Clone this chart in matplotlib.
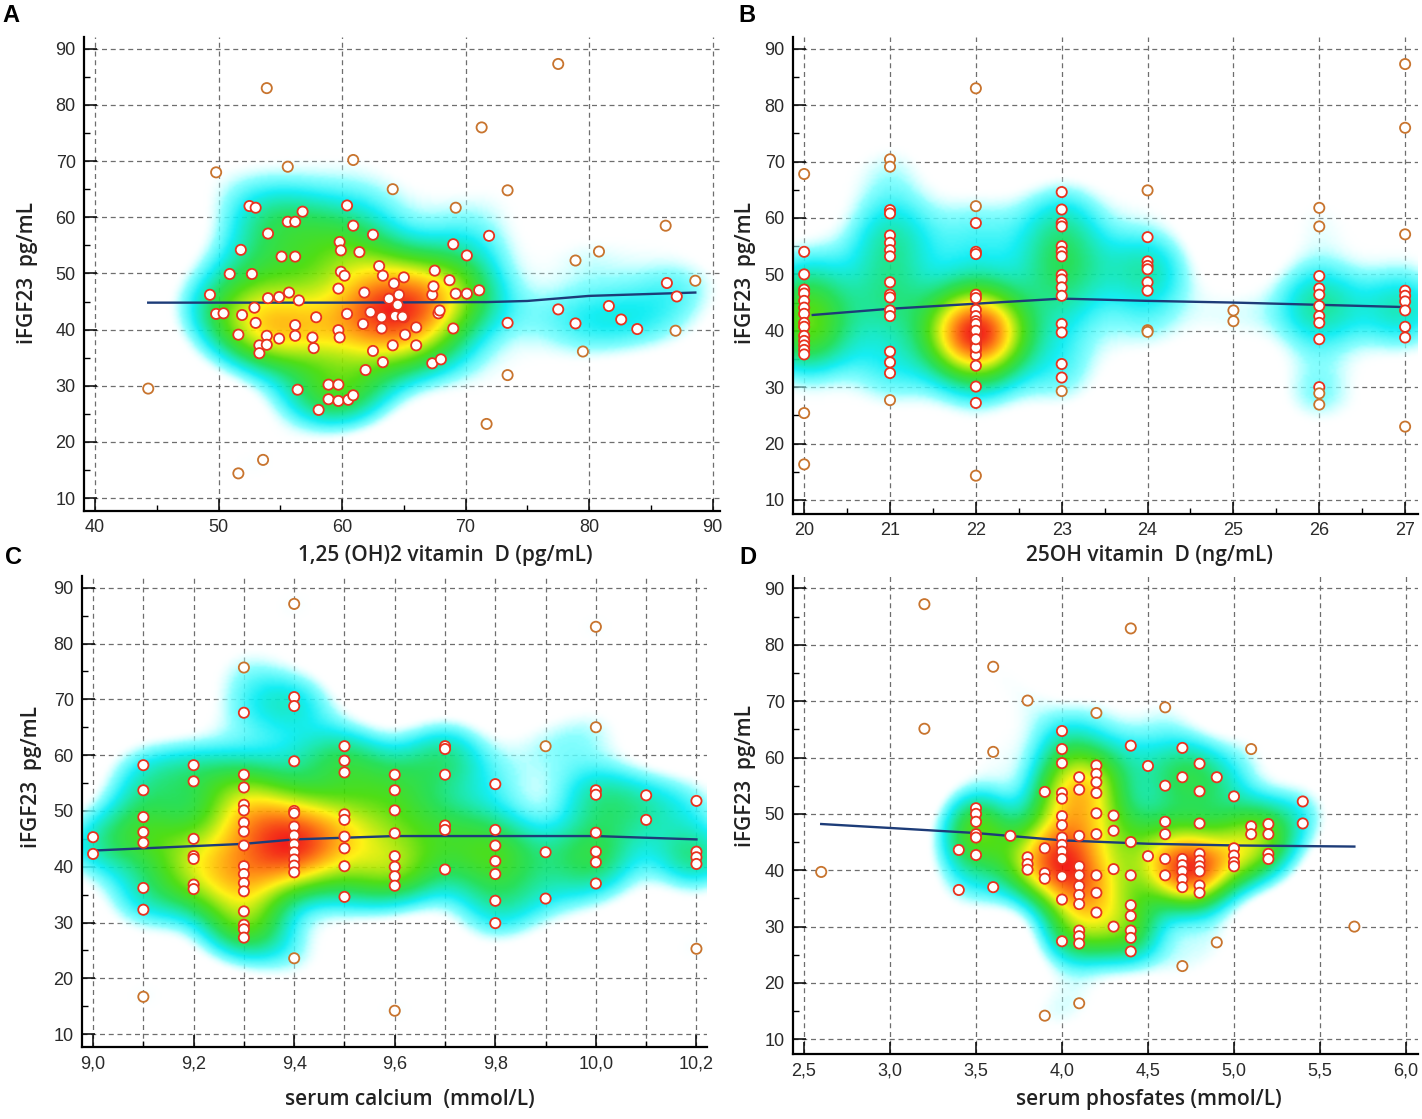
import numpy as np
import matplotlib.pyplot as plt
from matplotlib.colors import LinearSegmentedColormap
from matplotlib.ticker import MultipleLocator, FuncFormatter

# ---- panel A: 1,25 (OH)2 vitamin D vs iFGF23
a_x = [44.3, 49.8, 53.9, 55.6, 60.9, 64.1, 71.3, 73.4, 77.5, 69.2, 71.9, 78.9, 80.8, 86.2,
       88.6, 86.3, 87.1, 87.0, 83.9, 82.6, 81.6, 79.5, 78.9, 77.5, 73.4, 73.4, 71.7, 51.6, 53.6,
       49.3, 49.8, 50.4, 50.9, 51.6, 51.8, 51.9, 52.7, 52.5, 53.0, 52.9, 53.0, 53.3, 53.3, 53.9,
       53.9, 54.0, 54.0, 54.9, 54.9, 55.1, 55.7, 55.6, 56.2, 56.2, 56.2, 56.2, 56.4, 56.5, 56.8,
       57.6, 57.7, 57.9, 58.1, 58.9, 59.7, 58.9, 59.7, 60.5, 60.9, 59.7, 59.7, 59.8, 59.8, 59.9,
       59.9, 60.2, 60.4, 60.4, 60.9, 61.4, 61.7, 61.8, 61.9, 62.5, 62.3, 62.5, 63.0, 63.2, 63.2,
       63.3, 63.3, 64.1, 64.2, 64.3, 64.6, 65.0, 65.0, 65.1, 66.0, 66.0, 67.3, 68.0, 67.3, 67.4,
       67.5, 67.8, 67.9, 68.7, 69.0, 69.2, 69.0, 70.1, 70.1, 71.1, 64.5, 63.8, 64.9]
a_y = [29.5, 68.0, 83.0, 69.0, 70.2, 65.0, 76.0, 64.8, 87.3, 61.7, 56.7, 52.3, 53.9, 58.5,
       48.7, 48.3, 45.9, 39.8, 40.1, 41.8, 44.2, 36.1, 41.1, 43.6, 41.2, 31.9, 23.2, 14.4, 16.8,
       46.2, 42.8, 42.9, 49.9, 39.1, 54.2, 42.6, 49.9, 62.0, 61.7, 43.9, 41.2, 37.2, 35.8, 38.9,
       37.3, 57.1, 45.6, 45.8, 38.4, 53.0, 46.6, 59.2, 59.2, 53.0, 40.8, 38.9, 29.3, 45.2, 61.0,
       38.6, 36.7, 42.2, 25.7, 30.2, 30.2, 27.6, 27.3, 27.5, 28.3, 47.3, 39.9, 38.6, 55.6, 54.1,
       50.3, 49.6, 62.1, 42.8, 58.5, 53.8, 41.0, 46.6, 32.8, 56.9, 43.1, 36.2, 51.3, 42.2, 40.2,
       49.6, 34.2, 37.2, 48.2, 42.4, 46.2, 49.3, 42.2, 39.1, 40.4, 37.2, 34.0, 34.7, 46.2, 47.7,
       50.5, 42.9, 43.4, 48.8, 55.2, 46.4, 40.2, 53.2, 46.4, 47.0, 44.4, 45.5, 42.3]
a_fit_x = [44.3, 60.0, 71.7, 75.0, 80.0, 88.6]
a_fit_y = [44.8, 44.8, 44.9, 45.1, 46.0, 46.6]

# ---- panel B: 25OH vitamin D (integer values) vs iFGF23
# column 22 is packed with overlapping points, several values appear twice
b_groups = [
    (20, [67.8, 54.0, 50.0, 47.3, 46.6, 45.3, 44.1, 43.0, 41.4, 40.7, 39.1, 38.2, 37.4, 36.6, 35.8, 25.4, 16.3]),
    (21, [70.4, 69.1, 61.4, 60.8, 56.9, 55.6, 54.3, 53.2, 48.6, 46.4, 45.9, 43.6, 42.6, 36.3, 34.4, 32.5, 27.7]),
    (22, [83.0, 62.1, 59.1, 54.0, 53.6, 46.4, 45.8, 43.7, 42.6, 41.7, 40.7, 40.1, 39.5, 38.8, 37.6, 36.6,
          35.7, 33.8, 30.1, 27.2, 14.3, 39.0, 40.4, 38.2, 41.2, 39.8, 37.0, 40.0, 38.5]),
    (23, [64.6, 61.5, 59.1, 58.5, 55.0, 54.0, 53.2, 49.9, 49.1, 47.7, 46.2, 41.2, 39.7, 34.1, 31.7, 29.3]),
    (24, [64.9, 56.6, 52.3, 51.5, 50.9, 48.6, 47.1, 40.1, 39.8]),
    (25, [43.6, 41.7]),
    (26, [61.8, 58.5, 49.7, 47.5, 46.4, 44.4, 42.6, 41.4, 38.5, 30.0, 28.9, 26.9]),
    (27, [87.3, 76.0, 57.1, 47.1, 46.2, 45.2, 43.6, 40.7, 38.8, 23.0]),
]
b_fit_x = [20.1, 21, 22, 23, 24, 25, 26, 27]
b_fit_y = [42.8, 43.9, 44.8, 45.7, 45.3, 45.0, 44.6, 44.2]

# ---- panel C: serum calcium vs iFGF23
c_groups = [
    (9.0, [45.3, 42.3]),
    (9.1, [58.2, 53.7, 48.9, 46.2, 44.3, 36.2, 32.3, 16.7]),
    (9.2, [58.2, 55.3, 45.0, 41.9, 41.4, 36.8, 36.0]),
    (9.3, [75.7, 67.6, 56.5, 54.2, 51.1, 50.1, 47.9, 46.3, 43.8, 40.1, 38.7, 37.1, 35.6, 32.0, 29.6, 28.8, 27.3]),
    (9.4, [87.1, 70.4, 68.8, 58.9, 50.0, 49.6, 47.2, 45.6, 44.0, 42.6, 41.3, 40.2, 39.0, 23.6]),
    (9.5, [61.6, 59.0, 56.9, 49.4, 48.4, 45.4, 43.3, 40.1, 34.6]),
    (9.6, [56.5, 53.7, 50.1, 46.0, 41.9, 40.0, 38.3, 36.6, 14.2]),
    (9.7, [61.6, 61.1, 56.5, 47.4, 46.6, 39.5]),
    (9.8, [54.8, 46.6, 43.8, 41.0, 38.7, 33.9, 29.9]),
    (9.9, [61.6, 42.6, 34.3]),
    (10.0, [83.0, 65.0, 53.7, 52.9, 46.1, 42.7, 40.8, 37.0]),
    (10.1, [52.8, 48.4]),
    (10.2, [51.8, 42.7, 41.7, 40.5, 25.3]),
]
c_fit_x = [9.0, 9.1, 9.2, 9.3, 9.4, 9.5, 9.6, 9.8, 10.0, 10.2]
c_fit_y = [42.9, 43.3, 43.7, 44.1, 44.9, 45.2, 45.5, 45.5, 45.5, 44.9]

# ---- panel D: serum phosphates vs iFGF23
d_groups = [
    (2.6, [39.7]),
    (3.2, [87.2, 65.1]),
    (3.4, [43.6, 36.5]),
    (3.5, [51.0, 50.0, 48.6, 46.4, 45.8, 42.7]),
    (3.6, [76.1, 61.0, 37.0]),
    (3.7, [46.1]),
    (3.8, [70.1, 42.3, 41.1, 40.1]),
    (3.9, [53.9, 43.9, 39.5, 38.5, 14.2]),
    (4.0, [64.7, 61.5, 59.0, 53.7, 52.7, 49.6, 48.0, 45.8, 44.5, 43.3, 42.0, 38.9, 34.8, 27.4]),
    (4.1, [56.5, 54.3, 46.1, 40.7, 39.1, 37.2, 35.6, 34.0, 29.3, 28.3, 27.0, 16.4]),
    (4.2, [67.9, 58.6, 57.1, 55.6, 53.7, 50.1, 46.4, 39.1, 36.0, 32.5]),
    (4.3, [49.7, 47.0, 40.2, 30.0]),
    (4.4, [82.9, 62.1, 45.0, 39.1, 33.8, 31.9, 29.3, 28.0, 25.6]),
    (4.5, [58.5, 42.5]),
    (4.6, [68.9, 55.0, 48.6, 46.4, 42.0, 39.1]),
    (4.7, [61.7, 56.5, 42.0, 40.9, 39.8, 38.4, 37.0, 23.0]),
    (4.8, [58.9, 54.0, 48.3, 42.9, 41.7, 40.7, 39.8, 37.3, 36.0]),
    (4.9, [56.5, 27.2]),
    (5.0, [53.1, 43.9, 42.6, 41.4, 40.7]),
    (5.1, [61.5, 47.8, 46.4]),
    (5.2, [48.2, 46.4, 42.9, 42.0]),
    (5.4, [52.2, 48.3]),
    (5.7, [30.0]),
]
d_fit_x = [2.6, 3.0, 3.5, 4.0, 4.5, 5.0, 5.7]
d_fit_y = [48.2, 47.5, 46.6, 45.3, 44.7, 44.4, 44.2]

W, H = 1422, 1119
fig = plt.figure(figsize=(W / 100, H / 100), dpi=100)


def px_box(l, t, r, b):
    return [l / W, 1 - b / H, (r - l) / W, (b - t) / H]


def flat(groups):
    xs, ys = [], []
    for gx, gys in groups:
        xs += [gx] * len(gys)
        ys += gys
    return np.array(xs, float), np.array(ys, float)


heat = LinearSegmentedColormap.from_list('heat', [
    (0.00, (1, 1, 1, 0)),
    (0.09, (1, 1, 1, 0)),
    (0.16, (0.45, 1.0, 1.0, 0.9)),
    (0.24, (0.0, 0.93, 0.95, 1)),
    (0.38, (0.08, 0.87, 0.3, 1)),
    (0.50, (0.25, 0.86, 0.0, 1)),
    (0.68, (1.0, 0.95, 0.0, 1)),
    (0.84, (1.0, 0.5, 0.0, 1)),
    (1.00, (0.95, 0.05, 0.02, 1)),
])


def kde(x, y, gx, gy, hx, hy):
    X, Y = np.meshgrid(gx, gy)
    return np.exp(-0.5 * (((X[..., None] - x) / hx) ** 2 + ((Y[..., None] - y) / hy) ** 2)).sum(-1)


def comma(step):
    nd = 0 if step >= 1 else 1
    return FuncFormatter(lambda v, p: f'{v:.{nd}f}'.replace('.', ','))


def panel(box, x, y, fx, fy, xlim, ylim, bw, xmaj, xmin, xgrid_minor=False, xlabel='',
          xlab_pos=None, ylab_pos=None, letter='', letter_pos=None):
    ax = fig.add_axes(px_box(*box))
    x = np.asarray(x, float)
    y = np.asarray(y, float)
    gx = np.linspace(xlim[0], xlim[1], 260)
    gy = np.linspace(ylim[0], ylim[1], 260)
    dens = kde(x, y, gx, gy, *bw)
    top = dens.max()
    ax.imshow(dens / top, extent=[xlim[0], xlim[1], ylim[0], ylim[1]], origin='lower',
              aspect='auto', cmap=heat, vmin=0, vmax=1, interpolation='bilinear', alpha=0.92, zorder=1)
    at_pts = np.exp(-0.5 * (((x[:, None] - x) / bw[0]) ** 2 + ((y[:, None] - y) / bw[1]) ** 2)).sum(-1) / top
    edges = np.where(at_pts > 0.17, '#e8321e', '#c8742e')
    ax.plot(fx, fy, color='#1d3c78', lw=1.7, zorder=3)
    ax.scatter(x, y, s=54, facecolor='white', edgecolor=edges, linewidths=1.3, zorder=4)

    ax.set_xlim(*xlim)
    ax.set_ylim(*ylim)
    ax.xaxis.set_major_locator(MultipleLocator(xmaj))
    if xmin:
        ax.xaxis.set_minor_locator(MultipleLocator(xmin))
    ax.yaxis.set_major_locator(MultipleLocator(10))
    ax.yaxis.set_minor_locator(MultipleLocator(5))
    ax.xaxis.set_major_formatter(comma(xmaj))
    ax.set_axisbelow(True)
    grid_kw = dict(color='#6e6e6e', lw=0.9, linestyle=(0, (4, 3)))
    ax.grid(True, which='major', **grid_kw)
    if xgrid_minor:
        ax.xaxis.grid(True, which='minor', **grid_kw)
    for s in ('top', 'right'):
        ax.spines[s].set_visible(False)
    for s in ('left', 'bottom'):
        ax.spines[s].set_linewidth(1.6)
    ax.tick_params(which='major', direction='in', length=9, width=1.1, labelsize=13,
                   labelcolor='#2a2a2a', pad=6)
    ax.tick_params(which='minor', direction='in', length=4, width=1.0)
    for lab in ax.get_xticklabels() + ax.get_yticklabels():
        lab.set_family('Liberation Sans')

    fig.text(xlab_pos[0] / W, 1 - xlab_pos[1] / H, xlabel, ha='center', va='center',
             family='Open Sans', fontweight='semibold', fontsize=15, color='#222222')
    fig.text(ylab_pos[0] / W, 1 - ylab_pos[1] / H, 'iFGF23  pg/mL', ha='center', va='center',
             rotation=90, family='Open Sans', fontweight='semibold', fontsize=15, color='#222222')
    fig.text(letter_pos[0] / W, 1 - letter_pos[1] / H, letter, ha='center', va='center',
             family='Liberation Sans', fontweight='bold', fontsize=17, color='black')
    return ax


bx, by = flat(b_groups)
cx, cy = flat(c_groups)
dx, dy = flat(d_groups)

panel((84, 37, 720, 511), a_x, a_y, a_fit_x, a_fit_y, (39.1, 90.6), (7.7, 92.1), (3.0, 4.5),
      10, 5, xlabel='1,25 (OH)2 vitamin  D (pg/mL)', xlab_pos=(445, 555), ylab_pos=(27, 273),
      letter='A', letter_pos=(11, 15))
panel((793, 37, 1418, 514), bx, by, b_fit_x, b_fit_y, (19.87, 27.15), (7.5, 92.1), (0.4, 4.9),
      1, 0.5, xlabel='25OH vitamin  D (ng/mL)', xlab_pos=(1149, 555), ylab_pos=(746, 273),
      letter='B', letter_pos=(747, 15))
panel((82, 576, 707, 1047), cx, cy, c_fit_x, c_fit_y, (8.978, 10.221), (7.7, 92.1), (0.065, 4.5),
      0.2, 0.1, xgrid_minor=True, xlabel='serum calcium  (mmol/L)', xlab_pos=(410, 1100),
      ylab_pos=(32, 777), letter='C', letter_pos=(14, 557))
panel((793, 576, 1418, 1054), dx, dy, d_fit_x, d_fit_y, (2.436, 6.07), (7.4, 92.2), (0.15, 4.3),
      0.5, None, xlabel='serum phosfates (mmol/L)', xlab_pos=(1149, 1100), ylab_pos=(746, 776),
      letter='D', letter_pos=(748, 557))

fig.savefig('out.png', dpi=100)
